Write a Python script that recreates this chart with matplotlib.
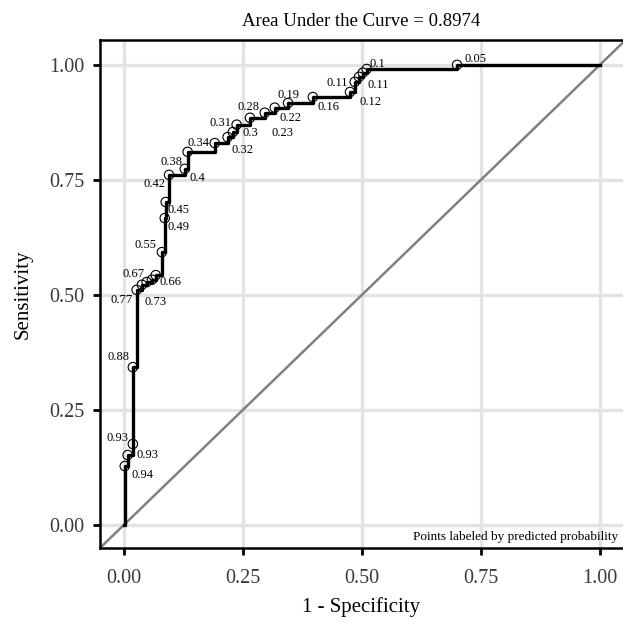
import numpy as np
import matplotlib
matplotlib.use("Agg")
import matplotlib.pyplot as plt

plt.rcParams['font.family'] = ['Liberation Serif', 'DejaVu Serif']

# ROC 顶点 (1 - 特异度, 灵敏度) 及对应的预测概率标签
fpr = [0.000, 0.002, 0.008, 0.019, 0.019, 0.027, 0.038, 0.048, 0.059, 0.067,
       0.080, 0.086, 0.088, 0.095, 0.128, 0.134, 0.191, 0.218, 0.229, 0.237,
       0.265, 0.296, 0.317, 0.345, 0.397, 0.475, 0.485, 0.494, 0.502, 0.510,
       0.700, 1.000]
tpr = [0.000, 0.128, 0.152, 0.176, 0.343, 0.511, 0.522, 0.528, 0.533, 0.543,
       0.593, 0.667, 0.702, 0.761, 0.774, 0.811, 0.830, 0.843, 0.854, 0.870,
       0.885, 0.896, 0.907, 0.917, 0.930, 0.941, 0.963, 0.974, 0.983, 0.991,
       1.000, 1.000]
labels = ["", "0.94", "0.93", "0.93", "0.88", "0.77", "0.73", "", "0.67", "0.66",
          "0.55", "0.49", "0.45", "0.42", "0.4", "0.38", "0.34", "0.32", "0.31", "0.3",
          "0.28", "0.23", "0.22", "0.19", "0.16", "0.12", "0.11", "0.11", "", "0.1",
          "0.05", ""]
auc = 0.8974

# 标签偏移 (像素) 与对齐方式
offsets = [(0, 0), (7, -9), (9, 0), (-4, 6), (-3, 10), (-4, -10), (3, -17), (0, 0),
           (-7, 6), (4, -7), (-5, 7), (3, -9), (2, -8), (-4, -9), (5, -9), (-5, -10),
           (-5, 0), (4, -13), (-1, 9), (6, -8), (-12, 11), (7, -20), (5, -10),
           (-11, 8), (5, -10), (10, -10), (-7, -1), (8, -8), (0, 0), (3, 5), (7, 6), (0, 0)]
aligns = ['left', 'left', 'left', 'right', 'right', 'right', 'left', 'left', 'right', 'left',
          'right', 'left', 'left', 'right', 'left', 'right', 'right', 'left', 'right', 'left',
          'left', 'left', 'left', 'left', 'left', 'left', 'right', 'left', 'left', 'left',
          'left', 'left']

fig = plt.figure(figsize=(6.23, 6.22), dpi=100)
ax = fig.add_axes([100 / 623, 74 / 622, 523 / 623, 508 / 622])

ax.grid(True, color='#e3e3e3', linewidth=2.4)
ax.set_axisbelow(True)

ax.plot([-0.05, 1.05], [-0.05, 1.05], color='#808080', linewidth=1.8, zorder=2)
ax.plot(fpr, tpr, drawstyle='steps-post', color='black', linewidth=2.4, zorder=3)

mfpr = [x for x, l in zip(fpr, labels) if l != "" or 0 < x < 1]
mtpr = [y for x, y, l in zip(fpr, tpr, labels) if l != "" or 0 < x < 1]
ax.scatter(mfpr, mtpr, s=46, facecolors='none', edgecolors='black',
           linewidths=0.8, zorder=4)

for x, y, l, off, ha in zip(fpr, tpr, labels, offsets, aligns):
    if l:
        ax.annotate(l, (x, y), xytext=off, textcoords='offset pixels',
                    ha=ha, va='center', fontsize=9, color='black', zorder=5)

ax.text(0.99, 0.022, "Points labeled by predicted probability", transform=ax.transAxes,
        ha='right', va='center', fontsize=9.5)

ax.set_xlim(-0.05, 1.0485)
ax.set_ylim(-0.05, 1.054)
ticks = [0, 0.25, 0.5, 0.75, 1.0]
ax.set_xticks(ticks)
ax.set_yticks(ticks)
ax.set_xticklabels([f"{t:.2f}" for t in ticks])
ax.set_yticklabels([f"{t:.2f}" for t in ticks])
ax.tick_params(length=5, width=2, labelsize=14.5, labelcolor='#3a3a3a')
ax.tick_params(axis='x', pad=10)
ax.tick_params(axis='y', pad=6)

for s in ['left', 'bottom', 'top']:
    ax.spines[s].set_linewidth(1.8)
ax.spines['right'].set_visible(False)

ax.set_title(f"Area Under the Curve = {auc}", fontsize=13.5, pad=10)
ax.set_xlabel("1 - Specificity", fontsize=15, labelpad=7)
ax.set_ylabel("Sensitivity", fontsize=15, labelpad=12)

plt.savefig("out.png", dpi=100)
